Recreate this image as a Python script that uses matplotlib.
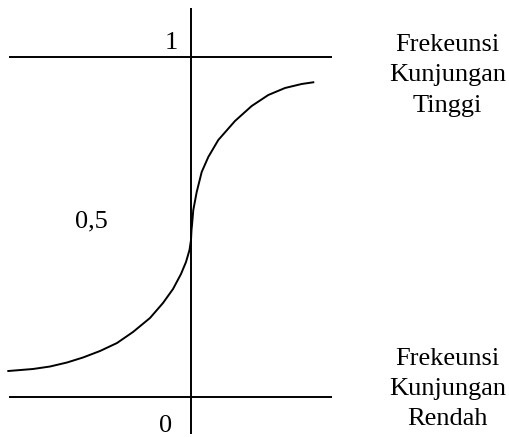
import matplotlib
matplotlib.use("Agg")
import matplotlib.pyplot as plt

# Curve (x: arbitrary units, vertical axis at x=0; y: 0..1)
curve_x = [-1.827, -1.58, -1.41, -1.24, -1.08, -0.91, -0.74, -0.58, -0.41,
           -0.28, -0.18, -0.10, -0.05, -0.015, 0.0, 0.005, 0.01, 0.023, 0.057,
           0.107, 0.173, 0.273, 0.44, 0.607, 0.773, 0.94, 1.107, 1.223]
curve_y = [0.0765, 0.0824, 0.0897, 0.1015, 0.1162, 0.1353, 0.1588, 0.1912, 0.2324,
           0.2765, 0.3176, 0.3618, 0.3971, 0.4324, 0.4618, 0.4912, 0.5059, 0.5500,
           0.6029, 0.6618, 0.7059, 0.7559, 0.8118, 0.8559, 0.8882, 0.9088, 0.9206,
           0.9256]

hline_levels = [0.0, 1.0]
hline_span = [-1.82, 1.41]
vline_span = [-0.11, 1.144]

level_labels = ["1", "0,5", "0"]
level_label_x = [-0.195, -1.0, -0.255]
level_label_y = [1.0235, 0.50, -0.104]

top_lines = ["Frekeunsi", "Kunjungan", "Tinggi"]
top_y = [1.018, 0.929, 0.838]
bottom_lines = ["Frekeunsi", "Kunjungan", "Rendah"]
bottom_y = [0.094, 0.006, -0.082]
right_x = 2.565

fig = plt.figure(figsize=(5.09, 4.37), dpi=100)
ax = fig.add_axes([0, 0, 1, 1])
ax.set_xlim(-1.91, 3.18)
ax.set_ylim(-0.1176, 1.1676)
ax.axis("off")

lw = 1.4
for lv in hline_levels:
    ax.plot(hline_span, [lv, lv], color="black", lw=lw, solid_capstyle="butt")
ax.plot([0, 0], vline_span, color="black", lw=lw, solid_capstyle="butt")
ax.plot(curve_x, curve_y, color="black", lw=lw, solid_joinstyle="round")

font = dict(family="Liberation Serif", fontsize=19, color="black")
for t, x, y in zip(level_labels, level_label_x, level_label_y):
    ax.text(x, y, t, ha="center", va="baseline", **font)
for t, y in zip(top_lines, top_y):
    ax.text(right_x, y, t, ha="center", va="baseline", **font)
for t, y in zip(bottom_lines, bottom_y):
    ax.text(right_x, y, t, ha="center", va="baseline", **font)

fig.savefig("out.png", dpi=100)
